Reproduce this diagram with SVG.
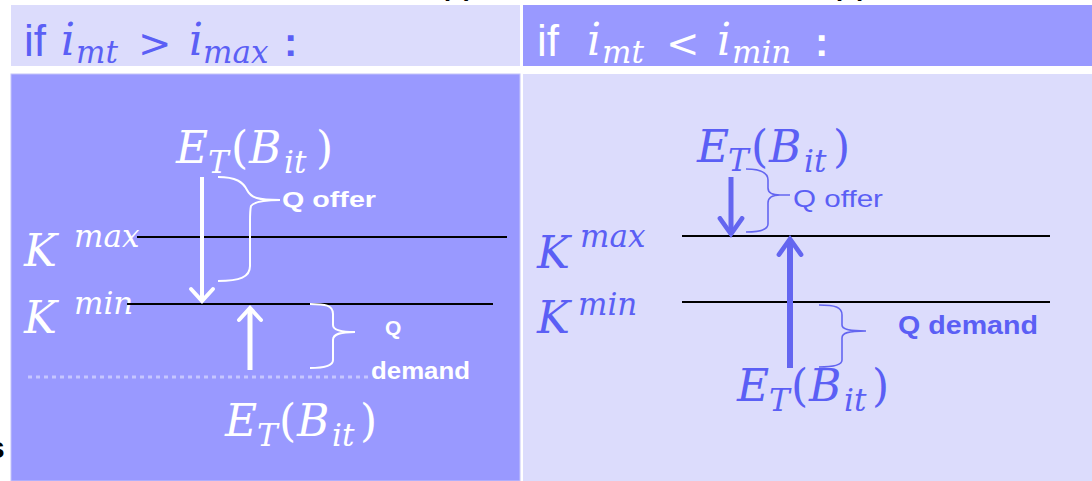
<svg xmlns="http://www.w3.org/2000/svg" width="1092" height="481" viewBox="0 0 1092 481">
<style>
.light{fill:#dcdcfc}
.dark{fill:#9999ff}
.m{font-family:"DejaVu Serif","Liberation Serif",serif;font-style:italic}
.u{font-family:"DejaVu Serif","Liberation Serif",serif}
.s{font-family:"Liberation Sans",Arial,sans-serif}
.sb{font-family:"Liberation Sans",Arial,sans-serif;font-weight:bold}
.w{fill:#ffffff}
.b{fill:#5b5ff5}
.k{fill:#000000}
.lvl{stroke:#000;stroke-width:2}
.braceW{fill:none;stroke:#fff;stroke-width:2}
.braceB{fill:none;stroke:#6466f0;stroke-width:1.6}
</style>
<defs>
<marker id="hw" markerUnits="userSpaceOnUse" markerWidth="24" markerHeight="32" viewBox="-18 -16 24 32" refX="0" refY="0" orient="auto">
<path d="M-12,-11 L0,0 L-12,11" fill="none" stroke="#fff" stroke-width="4" stroke-linecap="round" stroke-linejoin="miter"/>
</marker>
<marker id="hb" markerUnits="userSpaceOnUse" markerWidth="24" markerHeight="32" viewBox="-20 -16 26 32" refX="0" refY="0" orient="auto">
<path d="M-17,-12 L0,0 L-17,12" fill="none" stroke="#6466f0" stroke-width="5" stroke-linecap="round"/>
</marker>
</defs>

<rect width="1092" height="481" fill="#ffffff"/>

<!-- fragments cut off at the picture's edges, as in the reference -->
<text class="sb k" x="441" y="-4" font-size="26">(a)</text>
<text class="sb k" x="833" y="-4" font-size="26">(b)</text>
<text class="sb k" x="-12" y="458" font-size="30">s</text>

<g id="header-left">
<rect class="light" x="11" y="5" width="509" height="61"/>
<text class="s b" x="24" y="56" font-size="44">if</text>
<text class="m b" x="61" y="55" font-size="44">i</text>
<text class="m b" x="76" y="63" font-size="31">mt</text>
<text class="u b" x="138" y="57" font-size="40">&gt;</text>
<text class="m b" x="189" y="55" font-size="44">i</text>
<text class="m b" x="203" y="63" font-size="31">max</text>
<text class="sb b" x="284" y="56" font-size="40">:</text>
</g>

<g id="header-right">
<rect class="dark" x="523" y="5" width="569" height="61"/>
<text class="s w" x="537" y="56" font-size="44">if</text>
<text class="m w" x="587" y="55" font-size="44">i</text>
<text class="m w" x="602" y="63" font-size="31">mt</text>
<text class="u w" x="666" y="57" font-size="40">&lt;</text>
<text class="m w" x="717" y="55" font-size="44">i</text>
<text class="m w" x="732" y="63" font-size="31">min</text>
<text class="sb w" x="815" y="56" font-size="40">:</text>
</g>

<g id="panel-left">
<rect class="dark" x="11" y="74" width="509" height="407" stroke="#c4c4fa" stroke-width="1"/>
<g id="left-et-top">
<text class="m w" x="176" y="163" font-size="44">E</text>
<text class="m w" x="208" y="173" font-size="31">T</text>
<text class="u w" x="231" y="163" font-size="44">(</text>
<text class="m w" x="249" y="163" font-size="44">B</text>
<text class="m w" x="284" y="173" font-size="31">it</text>
<text class="u w" x="316" y="163" font-size="44">)</text>
</g>
<g id="left-kmax">
<text class="m w" x="24" y="266" font-size="44">K</text>
<text class="m w" x="74" y="247" font-size="31">max</text>
<line class="lvl" x1="137" y1="237" x2="507" y2="237"/>
</g>
<g id="left-kmin">
<text class="m w" x="24" y="333" font-size="44">K</text>
<text class="m w" x="74" y="314" font-size="31">min</text>
<line class="lvl" x1="127" y1="304" x2="493" y2="304"/>
</g>
<g id="left-q-offer">
<path class="braceW" d="M218,177 C236,177 243,182 247,190 C251,198 258,200 280,200 M280,200 C262,200 254,202 251,206 C250,210 250,214 250,222 L250,266 C250,277 240,281 218,281"/>
<text class="sb w" x="282" y="207" font-size="22" textLength="94" lengthAdjust="spacingAndGlyphs">Q offer</text>
</g>
<g id="left-q-demand">
<path class="braceW" d="M310,304 C325,304 333,305 333,314 L333,325 C333,330 340,332 355,332 M355,332 C340,332 333,334 333,340 L333,360 C333,366 325,368 310,368"/>
<text class="sb w" x="385" y="335" font-size="21">Q</text>
<text class="sb w" x="371" y="379" font-size="23" textLength="99" lengthAdjust="spacingAndGlyphs">demand</text>
</g>
<line x1="28" y1="377" x2="368" y2="377" stroke="#c6c6ff" stroke-width="3" stroke-dasharray="4 4"/>
<g id="left-et-bottom">
<text class="m w" x="225" y="436" font-size="44">E</text>
<text class="m w" x="257" y="446" font-size="31">T</text>
<text class="u w" x="279" y="436" font-size="44">(</text>
<text class="m w" x="297" y="436" font-size="44">B</text>
<text class="m w" x="332" y="446" font-size="31">it</text>
<text class="u w" x="360" y="436" font-size="44">)</text>
</g>
</g>

<g id="panel-right">
<rect class="light" x="523" y="74" width="569" height="407"/>
<g id="right-et-top">
<text class="m b" x="697" y="162" font-size="44">E</text>
<text class="m b" x="728" y="171" font-size="31">T</text>
<text class="u b" x="751" y="162" font-size="44">(</text>
<text class="m b" x="769" y="162" font-size="44">B</text>
<text class="m b" x="804" y="172" font-size="31">it</text>
<text class="u b" x="833" y="162" font-size="44">)</text>
</g>
<g id="right-kmax">
<text class="m b" x="537" y="268" font-size="44">K</text>
<text class="m b" x="580" y="247" font-size="31">max</text>
<line class="lvl" x1="682" y1="236" x2="1050" y2="236"/>
</g>
<g id="right-kmin">
<text class="m b" x="537" y="333" font-size="44">K</text>
<text class="m b" x="578" y="315" font-size="31">min</text>
<line class="lvl" x1="682" y1="302" x2="1050" y2="302"/>
</g>
<g id="right-q-offer">
<path class="braceB" d="M746,169 C760,169 768,172 768,180 L768,188 C768,193 772,195 780,195 L790,195 M780,195 C772,195 768,197 768,203 L768,224 C768,230 760,232 746,232"/>
<text class="s b" x="793" y="207" font-size="24" textLength="90" lengthAdjust="spacingAndGlyphs">Q offer</text>
</g>
<g id="right-q-demand">
<path class="braceB" d="M819,305 C835,305 842,307 842,315 L842,325 C842,329 848,331 866,331 M866,331 C848,331 842,333 842,338 L842,360 C842,365 835,367 819,367"/>
<text class="sb b" x="898" y="334" font-size="25" textLength="140" lengthAdjust="spacingAndGlyphs">Q demand</text>
</g>
<g id="right-et-bottom">
<text class="m b" x="737" y="401" font-size="44">E</text>
<text class="m b" x="769" y="411" font-size="31">T</text>
<text class="u b" x="791" y="401" font-size="44">(</text>
<text class="m b" x="809" y="401" font-size="44">B</text>
<text class="m b" x="844" y="411" font-size="31">it</text>
<text class="u b" x="872" y="401" font-size="44">)</text>
</g>
</g>

<g id="connectors">
<line x1="202" y1="177" x2="202" y2="301" stroke="#fff" stroke-width="4" marker-end="url(#hw)"/>
<line x1="250" y1="370" x2="250" y2="308" stroke="#fff" stroke-width="5" marker-end="url(#hw)"/>
<line x1="731" y1="177" x2="731" y2="234" stroke="#6466f0" stroke-width="5" marker-end="url(#hb)"/>
<line x1="790" y1="368" x2="790" y2="239" stroke="#6466f0" stroke-width="6" marker-end="url(#hb)"/>
</g>
</svg>
